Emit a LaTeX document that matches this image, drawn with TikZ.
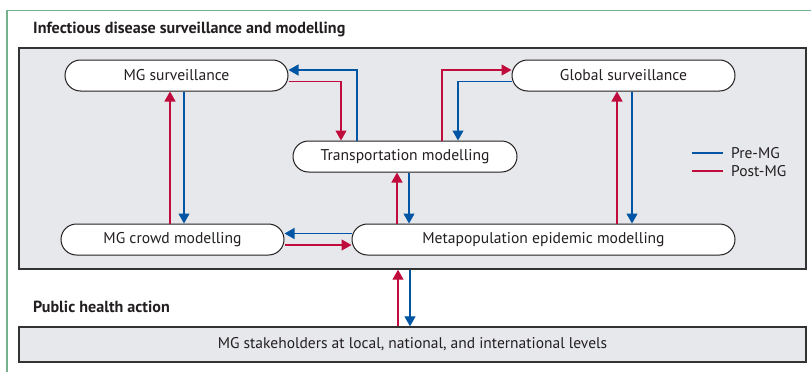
\documentclass[tikz,border=0pt]{standalone}
\usepackage{fontspec}
\setmainfont{PT Sans}
\usetikzlibrary{arrows.meta}

\definecolor{premg}{RGB}{0,86,164}
\definecolor{postmg}{RGB}{192,12,60}
\definecolor{panelgray}{RGB}{231,232,235}
\definecolor{framegreen}{RGB}{118,178,142}
\definecolor{textgray}{RGB}{35,31,32}

\begin{document}
\begin{tikzpicture}[x=1pt, y=-1pt, >={Triangle[length=10pt,width=11pt]},
	pill/.style={draw=textgray, line width=1pt, fill=white, rounded corners=15.5pt, minimum height=31pt, inner sep=0pt, text=textgray, font=\fontsize{15.6}{18}\selectfont},
	panel/.style={draw=black!80, line width=1.4pt, fill=panelgray, inner sep=0pt, text=textgray, font=\fontsize{15.5}{18}\selectfont},
	heading/.style={anchor=west, inner sep=0pt, text=textgray, font=\bfseries\fontsize{16.1}{19}\selectfont},
	legend/.style={anchor=west, inner sep=0pt, text=textgray, font=\fontsize{15.5}{18}\selectfont},
	pre/.style={->, draw=premg, line width=1.2pt},
	post/.style={->, draw=postmg, line width=1.2pt}]
	\useasboundingbox (0,0) rectangle (811,372);
	\draw[framegreen, line width=1.5pt] (7,372) -- (7,10.7) -- (811,10.7);

	\node[heading] (survtitle) at (33,29) {Infectious disease surveillance and modelling};
	\node[heading] (actiontitle) at (33,307) {Public health action};

	\node[panel, minimum width=787pt, minimum height=221pt] (frame) at (412.5,158.5) {};
	\node[panel, minimum width=787pt, minimum height=35pt] (stake) at (412.5,344.5) {MG stakeholders at local, national, and international levels};

	\node[pill, minimum width=223pt] (mgsurv) at (176.5,75.5) {MG surveillance};
	\node[pill, minimum width=223pt] (global) at (623.5,75.5) {Global surveillance};
	\node[pill, minimum width=224pt] (transport) at (405,156.5) {Transportation modelling};
	\node[pill, minimum width=223pt] (mgcrowd) at (172.5,239.5) {MG crowd modelling};
	\node[pill, minimum width=383pt] (metapop) at (543.5,239.5) {Metapopulation epidemic modelling};

	\node[legend] (prelabel) at (731,153) {Pre-MG};
	\node[legend] (postlabel) at (731,171) {Post-MG};
	\draw[premg, line width=1.2pt] ([xshift=-8pt]prelabel.west) -- ++(-31,0);
	\draw[postmg, line width=1.2pt] ([xshift=-8pt]postlabel.west) -- ++(-31,0);

	\draw[pre] (mgsurv.south -| 184,0) -- (mgcrowd.north -| 184,0);
	\draw[post] (mgcrowd.north -| 170,0) -- (mgsurv.south -| 170,0);
	\draw[pre] (transport.north -| 357,0) |- ([yshift=5.5pt]mgsurv.east);
	\draw[post] ([yshift=-6pt]mgsurv.east) -| (transport.north -| 341,0);
	\draw[post] (transport.north -| 442,0) |- ([yshift=5.5pt]global.west);
	\draw[pre] ([yshift=-6pt]global.west) -| (transport.north -| 458,0);
	\draw[post] (metapop.north -| 397,0) -- (transport.south -| 397,0);
	\draw[pre] (transport.south -| 409,0) -- (metapop.north -| 409,0);
	\draw[pre] ([yshift=6pt]metapop.west) -- ([yshift=6pt]mgcrowd.east);
	\draw[post] ([yshift=-5.5pt]mgcrowd.east) -- ([yshift=-5.5pt]metapop.west);
	\draw[post] (metapop.north -| 617,0) -- (global.south -| 617,0);
	\draw[pre] (global.south -| 632,0) -- (metapop.north -| 632,0);
	\draw[post] (stake.north -| 398,0) -- (frame.south -| 398,0);
	\draw[pre] (frame.south -| 410,0) -- (stake.north -| 410,0);
\end{tikzpicture}
\end{document}
